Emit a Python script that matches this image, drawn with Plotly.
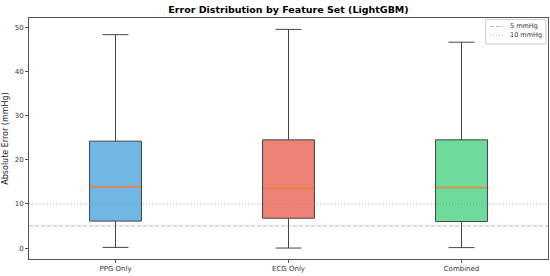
import plotly.graph_objects as go

categories = ["PPG Only", "ECG Only", "Combined"]
q1 = [6.1, 6.75, 6.0]
median = [13.9, 13.65, 13.7]
q3 = [24.2, 24.5, 24.5]
lower = [0.15, 0.0, 0.1]
upper = [48.3, 49.5, 46.6]
fills = ["rgba(52,152,219,0.7)", "rgba(231,76,60,0.7)", "rgba(46,204,113,0.7)"]
ref_levels = [5, 10]
ref_names = ["5 mmHg", "10 mmHg"]
ref_dash = ["4px,2px", "1px,2px"]

BOX_W = 0.3
REF_COLOR = "rgba(128,128,128,0.6)"
fig = go.Figure()
for i, c in enumerate(categories):
    fig.add_trace(go.Box(
        x=[i], q1=[q1[i]], median=[median[i]], q3=[q3[i]],
        lowerfence=[lower[i]], upperfence=[upper[i]],
        width=BOX_W, whiskerwidth=0.5, boxpoints=False,
        fillcolor=fills[i], line=dict(color="#444444", width=1),
        showlegend=False, hoverinfo="skip", name=c))
    fig.add_shape(type="line", xref="x", yref="y",
                  x0=i - BOX_W / 2 + 0.004, x1=i + BOX_W / 2 - 0.004,
                  y0=median[i], y1=median[i], layer="above",
                  line=dict(color="#f5843a", width=1.6))

for lvl, nm, dsh in zip(ref_levels, ref_names, ref_dash):
    fig.add_trace(go.Scatter(
        x=[-0.5, 2.5], y=[lvl, lvl], mode="lines", name=nm,
        line=dict(color=REF_COLOR, width=1, dash=dsh),
        hoverinfo="skip", showlegend=False))

# manual compact legend (matplotlib style)
fig.add_shape(type="rect", xref="paper", yref="paper", x0=0.880, x1=0.996,
              y0=0.892, y1=0.994, line=dict(color="#cccccc", width=1),
              fillcolor="rgba(255,255,255,0.8)", layer="above")
for k, (nm, dsh) in enumerate(zip(ref_names, ref_dash)):
    yy = 0.965 - k * 0.036
    fig.add_shape(type="line", xref="paper", yref="paper", x0=0.888, x1=0.914,
                  y0=yy, y1=yy, line=dict(color=REF_COLOR, width=1, dash=dsh),
                  layer="above")
    fig.add_annotation(xref="paper", yref="paper", x=0.922, y=yy, text=nm,
                       showarrow=False, xanchor="left", yanchor="middle",
                       font=dict(size=6.5, color="#333333"))

fig.update_layout(
    width=550, height=276,
    margin=dict(l=29, r=2, t=18, b=17),
    paper_bgcolor="white", plot_bgcolor="white",
    font=dict(family="DejaVu Sans", size=7, color="#333333"),
    title=dict(text="<b>Error Distribution by Feature Set (LightGBM)</b>",
               x=0.5, xanchor="center", xref="paper", y=0.965, yanchor="middle",
               font=dict(size=9.5, color="#000000")),
    showlegend=False,
)
fig.update_xaxes(
    range=[-0.5, 2.5], tickvals=list(range(len(categories))), ticktext=categories,
    showgrid=False, zeroline=False, showline=True, linecolor="#555555", linewidth=1,
    mirror=True, ticks="outside", ticklen=3, tickcolor="#555555")
fig.update_yaxes(
    range=[-2.48, 52.08], tickvals=[0, 10, 20, 30, 40, 50],
    showgrid=False, zeroline=False, showline=True, linecolor="#555555", linewidth=1,
    mirror=True, ticks="outside", ticklen=3, tickcolor="#555555",
    title=dict(text="Absolute Error (mmHg)", font=dict(size=8, color="#222222"), standoff=4))

fig.write_html("out.html")
